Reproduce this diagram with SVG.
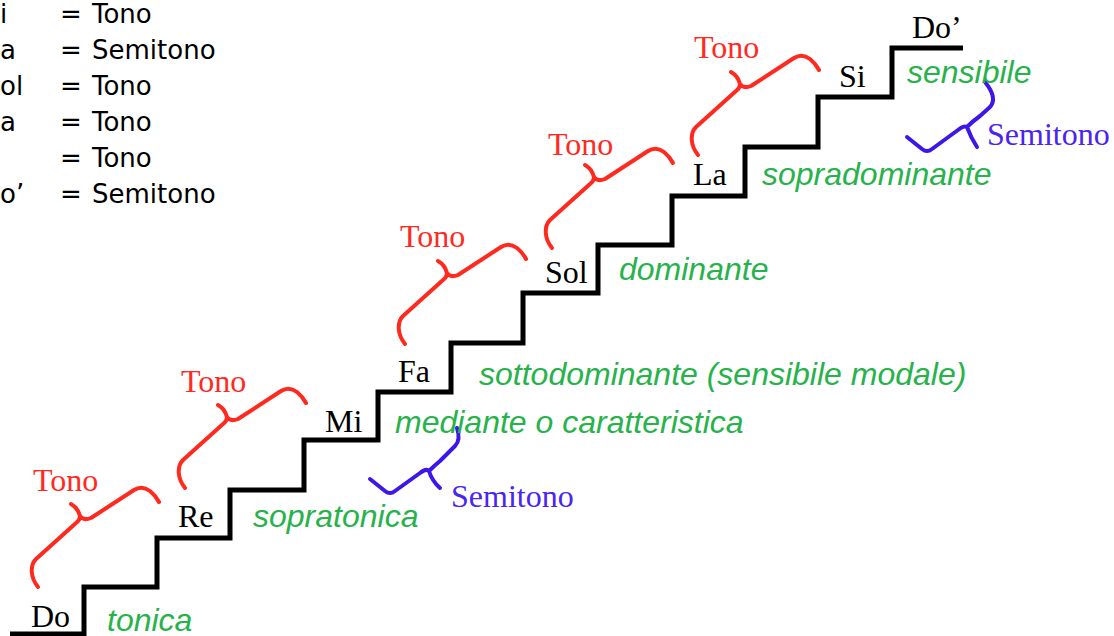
<svg xmlns="http://www.w3.org/2000/svg" width="1114" height="636" viewBox="0 0 1114 636">
<defs>
<style>
.tbl{font-family:"DejaVu Sans",Verdana,sans-serif;font-size:26px;fill:#000}
.note{font-family:"Liberation Serif","Times New Roman",serif;font-size:32px;fill:#000}
.tono{font-family:"Liberation Serif","Times New Roman",serif;font-size:32px;fill:#ff2a1f}
.semi{font-family:"Liberation Serif","Times New Roman",serif;font-size:32px;fill:#4a24f0}
.deg{font-family:"Liberation Sans",Arial,sans-serif;font-size:32px;font-style:italic;fill:#27b24b}
.stair{fill:none;stroke:#000;stroke-width:5;stroke-linejoin:miter}
.rb{fill:none;stroke:#ff2a1f;stroke-width:4;stroke-linecap:round;stroke-linejoin:round}
.bb{fill:none;stroke:#3f16e8;stroke-width:4;stroke-linecap:round;stroke-linejoin:round}
</style>
<path id="tonoBrace" d="M0,0 C-8,-10 -8,-22 -2,-28 L38,-64 Q42,-67 42,-71 Q40,-79 33,-83 M42,-71 Q45,-66 53,-69 L96,-97 Q104,-102 112,-96 Q118,-91 121,-85"/>
</defs>
<rect width="1114" height="636" fill="#fff"/>

<g id="table">
<text class="tbl" x="0" y="23">i</text>
<text class="tbl" x="60" y="23">=</text><text class="tbl" x="92" y="23">Tono</text>
<text class="tbl" x="0" y="59">a</text>
<text class="tbl" x="60" y="59">=</text><text class="tbl" x="92" y="59">Semitono</text>
<text class="tbl" x="0" y="95">ol</text>
<text class="tbl" x="60" y="95">=</text><text class="tbl" x="92" y="95">Tono</text>
<text class="tbl" x="0" y="131">a</text>
<text class="tbl" x="60" y="131">=</text><text class="tbl" x="92" y="131">Tono</text>
<text class="tbl" x="60" y="167">=</text><text class="tbl" x="92" y="167">Tono</text>
<text class="tbl" x="0" y="203">o’</text>
<text class="tbl" x="60" y="203">=</text><text class="tbl" x="92" y="203">Semitono</text>
</g>

<g id="connectors">
<path id="stairs" class="stair" d="M10,634 H84 V587 H157 V538 H230 V490 H304 V440 H378 V392 H451 V343 H523 V293 H598 V245 H672 V196 H745 V147 H818 V97 H892 V48 H963"/>
<use href="#tonoBrace" class="rb" transform="translate(38,587)"/>
<use href="#tonoBrace" class="rb" transform="translate(185,488)"/>
<use href="#tonoBrace" class="rb" transform="translate(405,344)"/>
<use href="#tonoBrace" class="rb" transform="translate(552,248)"/>
<use href="#tonoBrace" class="rb" transform="translate(698,155)"/>
<path class="bb" d="M370,479 L385,491 Q390,495 395,491 L420,473 Q426,468 429,471 Q432,481 440,488 M429,471 Q434,466 440,461 L455,446 Q461,440 457,428"/>
<path class="bb" d="M907,137 L922,149 Q927,153 932,149 L958,130 Q964,125 967,127 Q971,138 977,147 M967,127 Q973,121 980,116 L990,107 Q998,98 985,82"/>
</g>

<g id="do"><text class="note" x="31" y="627">Do</text><text class="deg" x="107" y="631">tonica</text></g>
<g id="re"><text class="note" x="178" y="527">Re</text><text class="deg" x="253" y="527">sopratonica</text></g>
<g id="mi"><text class="note" x="325" y="432">Mi</text><text class="deg" x="395" y="433">mediante o caratteristica</text></g>
<g id="fa"><text class="note" x="398" y="382">Fa</text><text class="deg" x="479" y="385">sottodominante (sensibile modale)</text></g>
<g id="sol"><text class="note" x="545" y="283">Sol</text><text class="deg" x="619" y="280">dominante</text></g>
<g id="la"><text class="note" x="693" y="185">La</text><text class="deg" x="762" y="185">sopradominante</text></g>
<g id="si"><text class="note" x="839" y="87">Si</text><text class="deg" x="907" y="83">sensibile</text></g>
<g id="do2"><text class="note" x="912" y="38">Do’</text></g>

<g id="labels">
<text class="tono" x="33" y="491">Tono</text>
<text class="tono" x="181" y="392">Tono</text>
<text class="tono" x="400" y="247">Tono</text>
<text class="tono" x="548" y="155">Tono</text>
<text class="tono" x="694" y="58">Tono</text>
<text class="semi" x="451" y="507">Semitono</text>
<text class="semi" x="987" y="145">Semitono</text>
</g>
</svg>
